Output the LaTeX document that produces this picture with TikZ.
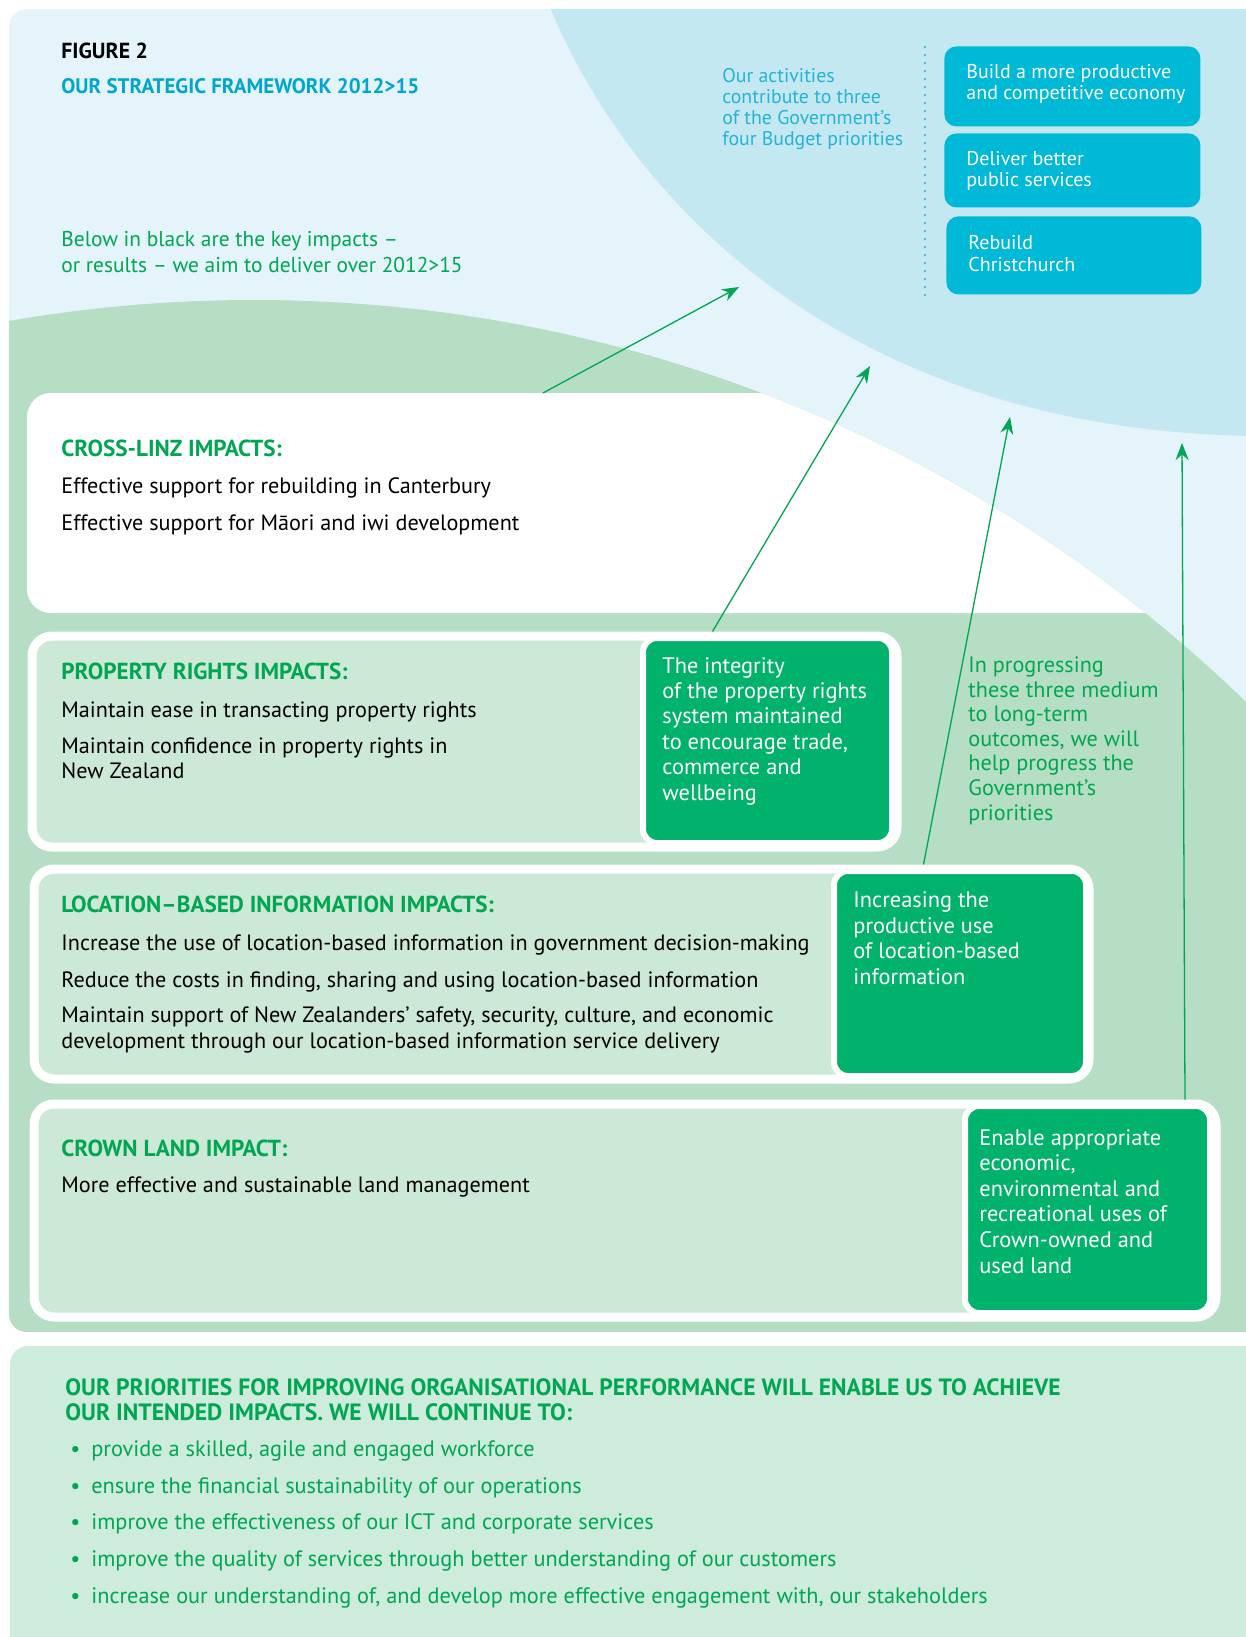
\documentclass[tikz,border=0pt]{standalone}
\usepackage{fontspec}
\setmainfont{PT Sans}
\usepackage{xcolor}
\usepackage{tikz}
\usetikzlibrary{arrows.meta, positioning, calc}

\begin{document}
\begin{tikzpicture}[x=0.5pt, y=-0.5pt,
  frame/.style={fill=mint, draw=white, line width=4.5pt, rounded corners=10pt, anchor=north west, inner sep=0pt},
  outcome/.style={fill=linz, draw=white, line width=3pt, rounded corners=7pt, anchor=north west, inner sep=0pt},
  priority/.style={fill=budgetbox, rounded corners=6pt, anchor=north west, inner sep=0pt},
  txt/.style={anchor=base west, inner sep=0pt, align=left},
  head/.style={txt, text=leaf, font=\fontsize{11.6}{12.5}\selectfont\bfseries},
  body/.style={txt, text=black, font=\fontsize{11.1}{13}\selectfont},
  outtext/.style={txt, text=white, font=\fontsize{11.2}{12.7}\selectfont},
  boxtext/.style={txt, text=white, font=\fontsize{10}{10.6}\selectfont},
  seta/.style={->, >={Stealth[length=8.5pt, width=6.5pt]}, draw=leaf, line width=0.65pt}]
% --- CORES DO QUADRO ---
\definecolor{sky}{HTML}{E4F4FA}
\definecolor{budget}{HTML}{C3E8F1}
\definecolor{budgetbox}{HTML}{00B9D7}
\definecolor{hill}{HTML}{B5DEC5}
\definecolor{mint}{HTML}{CCE8D6}
\definecolor{linz}{HTML}{00B26B}
\definecolor{leaf}{HTML}{00A651}
\definecolor{title}{HTML}{00A6CE}
\definecolor{footer}{HTML}{CDECDB}

\useasboundingbox (0,0) rectangle (1246,1637);
\clip (0,0) rectangle (1246,1637);

% LAYER 1: Painel de cima (ceu, prioridades do governo e colina verde)
\begin{scope}
  \clip[rounded corners=9pt] (9,9) rectangle (1280,1332);
  \fill[sky] (9,9) rectangle (1280,1332);
  \fill[budget] (547,0) .. controls (640,230) and (880,440) .. (1280,436) -- (1280,0) -- cycle;
  \fill[hill] (254,1725) circle (712.5pt);
\end{scope}
\begin{scope}
  \clip (254,1725) circle (712.5pt);
  \fill[white, rounded corners=12pt] (27,393) rectangle (1300,613); % Cross-LINZ
\end{scope}

% LAYER 2: Titulo e textos soltos (nos de varias linhas: base na ultima linha)
\node[txt, font=\fontsize{10.9}{12}\selectfont\bfseries] (fig) at (61,59) {FIGURE 2};
\node[txt, text=title, font=\fontsize{10.5}{12}\selectfont\bfseries] (framework) at (61,94) {OUR STRATEGIC FRAMEWORK 2012>15};
\node[txt, text=leaf, font=\fontsize{10.7}{13}\selectfont] (below) at (61,272) {Below in black are the key impacts --\\or results -- we aim to deliver over 2012>15};
\node[txt, text=title!85, font=\fontsize{9.9}{10.5}\selectfont] (activities) at (722,146) {Our activities\\contribute to three\\of the Government's\\four Budget priorities};
\draw[title!85, line width=1.1pt, line cap=round, dash pattern=on 0pt off 4pt] (925,47) -- (925,296);

% LAYER 3: Prioridades do orcamento
\node[priority, minimum width=128pt, minimum height=40pt] (economy) at (944,46) {};
\node[priority, minimum width=128pt, minimum height=37pt] (services) at (944,133) {};
\node[priority, minimum width=127.5pt, minimum height=39pt] (rebuild) at (946,216) {};
\node[boxtext] (economytxt) at (966,100) {Build a more productive\\and competitive economy};
\node[boxtext] (servicestxt) at (966,187) {Deliver better\\public services};
\node[boxtext] (rebuildtxt) at (968,271) {Rebuild\\Christchurch};

% LAYER 4: Impactos
\node[head] (crossh) at (61,456) {CROSS-LINZ IMPACTS:};
\node[body] (crossa) at (61,493) {Effective support for rebuilding in Canterbury};
\node[body] (crossb) at (61,530) {Effective support for Māori and iwi development};

\node[frame, minimum width=432.5pt, minimum height=105.5pt] (propframe) at (27.5,631.5) {};
\node[outcome, minimum width=124.5pt, minimum height=102.5pt] (propout) at (640,635) {};
\node[head] (proph) at (61,679) {PROPERTY RIGHTS IMPACTS:};
\node[body] (propa) at (61,717) {Maintain ease in transacting property rights};
\node[body, font=\fontsize{11.1}{12.5}\selectfont] (propb) at (61,778) {Maintain confidence in property rights in\\New Zealand};
\node[outtext] (propouttxt) at (662,800) {The integrity\\of the property rights\\system maintained\\to encourage trade,\\commerce and\\wellbeing};
\node[txt, text=leaf, font=\fontsize{11.1}{12.3}\selectfont] (progress) at (968,820) {In progressing\\these three medium\\to long-term\\outcomes, we will\\help progress the\\Government's\\priorities};

\node[frame, minimum width=527.5pt, minimum height=105pt] (locframe) at (29.5,864.5) {};
\node[outcome, minimum width=126pt, minimum height=102.5pt] (locout) at (831,868) {};
\node[head] (loch) at (61,912) {LOCATION--BASED INFORMATION IMPACTS:};
\node[body] (loca) at (61,950) {Increase the use of location-based information in government decision-making};
\node[body] (locb) at (61,987) {Reduce the costs in finding, sharing and using location-based information};
\node[body] (locc) at (61,1048) {Maintain support of New Zealanders' safety, security, culture, and economic\\development through our location-based information service delivery};
\node[outtext] (locouttxt) at (853,984) {Increasing the\\productive use\\of location-based\\information};

\node[frame, minimum width=591pt, minimum height=106.5pt] (crownframe) at (29.5,1099.5) {};
\node[outcome, minimum width=122.5pt, minimum height=103.5pt] (crownout) at (962,1103) {};
\node[head] (crownh) at (61,1156) {CROWN LAND IMPACT:};
\node[body] (crowna) at (61,1192) {More effective and sustainable land management};
\node[outtext, font=\fontsize{11.2}{12.8}\selectfont] (crownouttxt) at (979,1273) {Enable appropriate\\economic,\\environmental and\\recreational uses of\\Crown-owned and\\used land};

% LAYER 5: Setas para as prioridades
\coordinate (crosstop) at (543,393);
\coordinate (tipcross) at (739,287);
\coordinate (tipprop) at (870,366);
\coordinate (tiploc) at (1010,417);
\coordinate (tipcrown) at (1182,443);
\draw[seta] (crosstop) -- (tipcross);
\draw[seta] ([xshift=124pt]propframe.north) -- (tipprop);
\draw[seta] ([xshift=181pt]locframe.north) -- (tiploc);
\draw[seta] ([xshift=280pt]crownframe.north) -- (tipcrown);

% LAYER 6: Painel de baixo
\fill[footer, rounded corners=9pt] (10,1346) rectangle (1280,1680);
\node[head, font=\fontsize{11.8}{12.5}\selectfont\bfseries] (foothead) at (65,1420) {OUR PRIORITIES FOR IMPROVING ORGANISATIONAL PERFORMANCE WILL ENABLE US TO ACHIEVE\\OUR INTENDED IMPACTS. WE WILL CONTINUE TO:};
\node[txt, text=leaf, font=\fontsize{11.15}{18.3}\selectfont] (bullets) at (70,1603) {%
  \makebox[10.5pt][l]{\textbullet}provide a skilled, agile and engaged workforce\\
  \makebox[10.5pt][l]{\textbullet}ensure the financial sustainability of our operations\\
  \makebox[10.5pt][l]{\textbullet}improve the effectiveness of our ICT and corporate services\\
  \makebox[10.5pt][l]{\textbullet}improve the quality of services through better understanding of our customers\\
  \makebox[10.5pt][l]{\textbullet}increase our understanding of, and develop more effective engagement with, our stakeholders};
\end{tikzpicture}
\end{document}
